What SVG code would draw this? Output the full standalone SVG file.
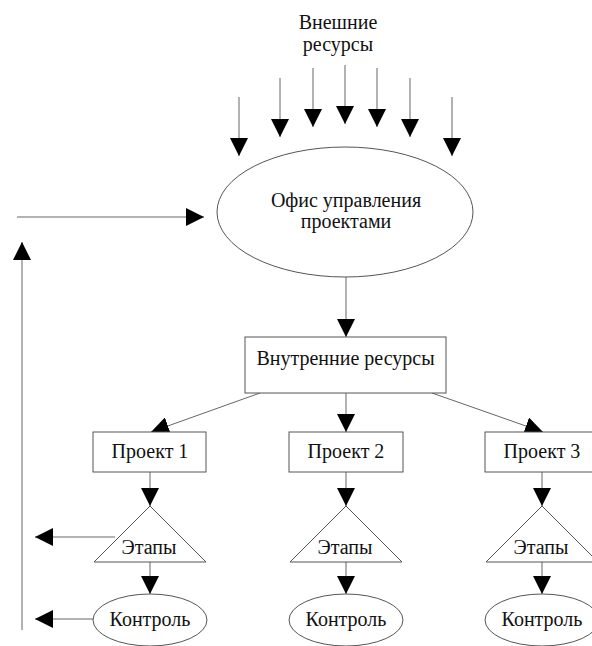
<svg xmlns="http://www.w3.org/2000/svg" width="592" height="646" viewBox="0 0 592 646">
<style>
  .t { font-family: "Liberation Serif", "Times New Roman", serif; font-size: 20px; fill: #111; text-anchor: middle; }
  .shape { fill: #fff; stroke: #555; stroke-width: 1; }
  .ln { fill: none; stroke: #666; stroke-width: 1; marker-end: url(#ah); }
</style>
<defs>
  <marker id="ah" markerUnits="userSpaceOnUse" markerWidth="18" markerHeight="18" viewBox="0 0 18 18" refX="18" refY="9" orient="auto">
    <path d="M0,0 L18,9 L0,18 z" fill="#000"/>
  </marker>
</defs>
<rect width="592" height="646" fill="#fff"/>

<g id="external-resources">
  <text class="t" x="338" y="29">Внешние</text>
  <text class="t" x="338" y="51">ресурсы</text>
</g>

<g id="connectors">
  <line class="ln" x1="239" y1="97" x2="239" y2="156"/>
  <line class="ln" x1="280" y1="78" x2="280" y2="137"/>
  <line class="ln" x1="313" y1="68" x2="313" y2="127"/>
  <line class="ln" x1="345" y1="65" x2="345" y2="124"/>
  <line class="ln" x1="377" y1="68" x2="377" y2="127"/>
  <line class="ln" x1="410" y1="78" x2="410" y2="137"/>
  <line class="ln" x1="452" y1="97" x2="452" y2="156"/>
  <line class="ln" x1="17" y1="217" x2="204" y2="217"/>
  <line class="ln" x1="22" y1="630" x2="22" y2="242"/>
  <line class="ln" x1="346" y1="277" x2="346" y2="337"/>
  <line class="ln" x1="346" y1="393" x2="346" y2="432"/>
  <line class="ln" x1="260" y1="393" x2="151" y2="432"/>
  <line class="ln" x1="432" y1="393" x2="543" y2="432"/>
  <line class="ln" x1="150" y1="472" x2="150" y2="506"/>
  <line class="ln" x1="346" y1="472" x2="346" y2="506"/>
  <line class="ln" x1="542" y1="472" x2="542" y2="506"/>
  <line class="ln" x1="150" y1="562" x2="150" y2="594"/>
  <line class="ln" x1="346" y1="562" x2="346" y2="594"/>
  <line class="ln" x1="542" y1="562" x2="542" y2="594"/>
  <line class="ln" x1="115" y1="537" x2="35" y2="537"/>
  <line class="ln" x1="93" y1="619" x2="35" y2="619"/>
</g>

<g id="pmo">
  <ellipse class="shape" cx="345" cy="212" rx="128" ry="65"/>
  <text class="t" x="346" y="207">Офис управления</text>
  <text class="t" x="346" y="228">проектами</text>
</g>

<g id="internal-resources">
  <rect class="shape" x="245" y="337" width="201" height="56"/>
  <text class="t" x="345.5" y="365">Внутренние ресурсы</text>
</g>

<g id="project1">
  <rect class="shape" x="93" y="432" width="113" height="40"/>
  <text class="t" x="150" y="458">Проект 1</text>
</g>
<g id="project2">
  <rect class="shape" x="289" y="432" width="114" height="40"/>
  <text class="t" x="346" y="458">Проект 2</text>
</g>
<g id="project3">
  <rect class="shape" x="485" y="432" width="114" height="40"/>
  <text class="t" x="542" y="458">Проект 3</text>
</g>

<g id="stages1">
  <polygon class="shape" points="150,506 206,562 94,562"/>
  <text class="t" x="149" y="554">Этапы</text>
</g>
<g id="stages2">
  <polygon class="shape" points="346,506 402,562 290,562"/>
  <text class="t" x="345" y="554">Этапы</text>
</g>
<g id="stages3">
  <polygon class="shape" points="542,506 598,562 486,562"/>
  <text class="t" x="541" y="554">Этапы</text>
</g>

<g id="control1">
  <ellipse class="shape" cx="150" cy="620" rx="57" ry="26"/>
  <text class="t" x="150" y="626">Контроль</text>
</g>
<g id="control2">
  <ellipse class="shape" cx="346" cy="620" rx="57" ry="26"/>
  <text class="t" x="346" y="626">Контроль</text>
</g>
<g id="control3">
  <ellipse class="shape" cx="542" cy="620" rx="57" ry="26"/>
  <text class="t" x="542" y="626">Контроль</text>
</g>
</svg>
